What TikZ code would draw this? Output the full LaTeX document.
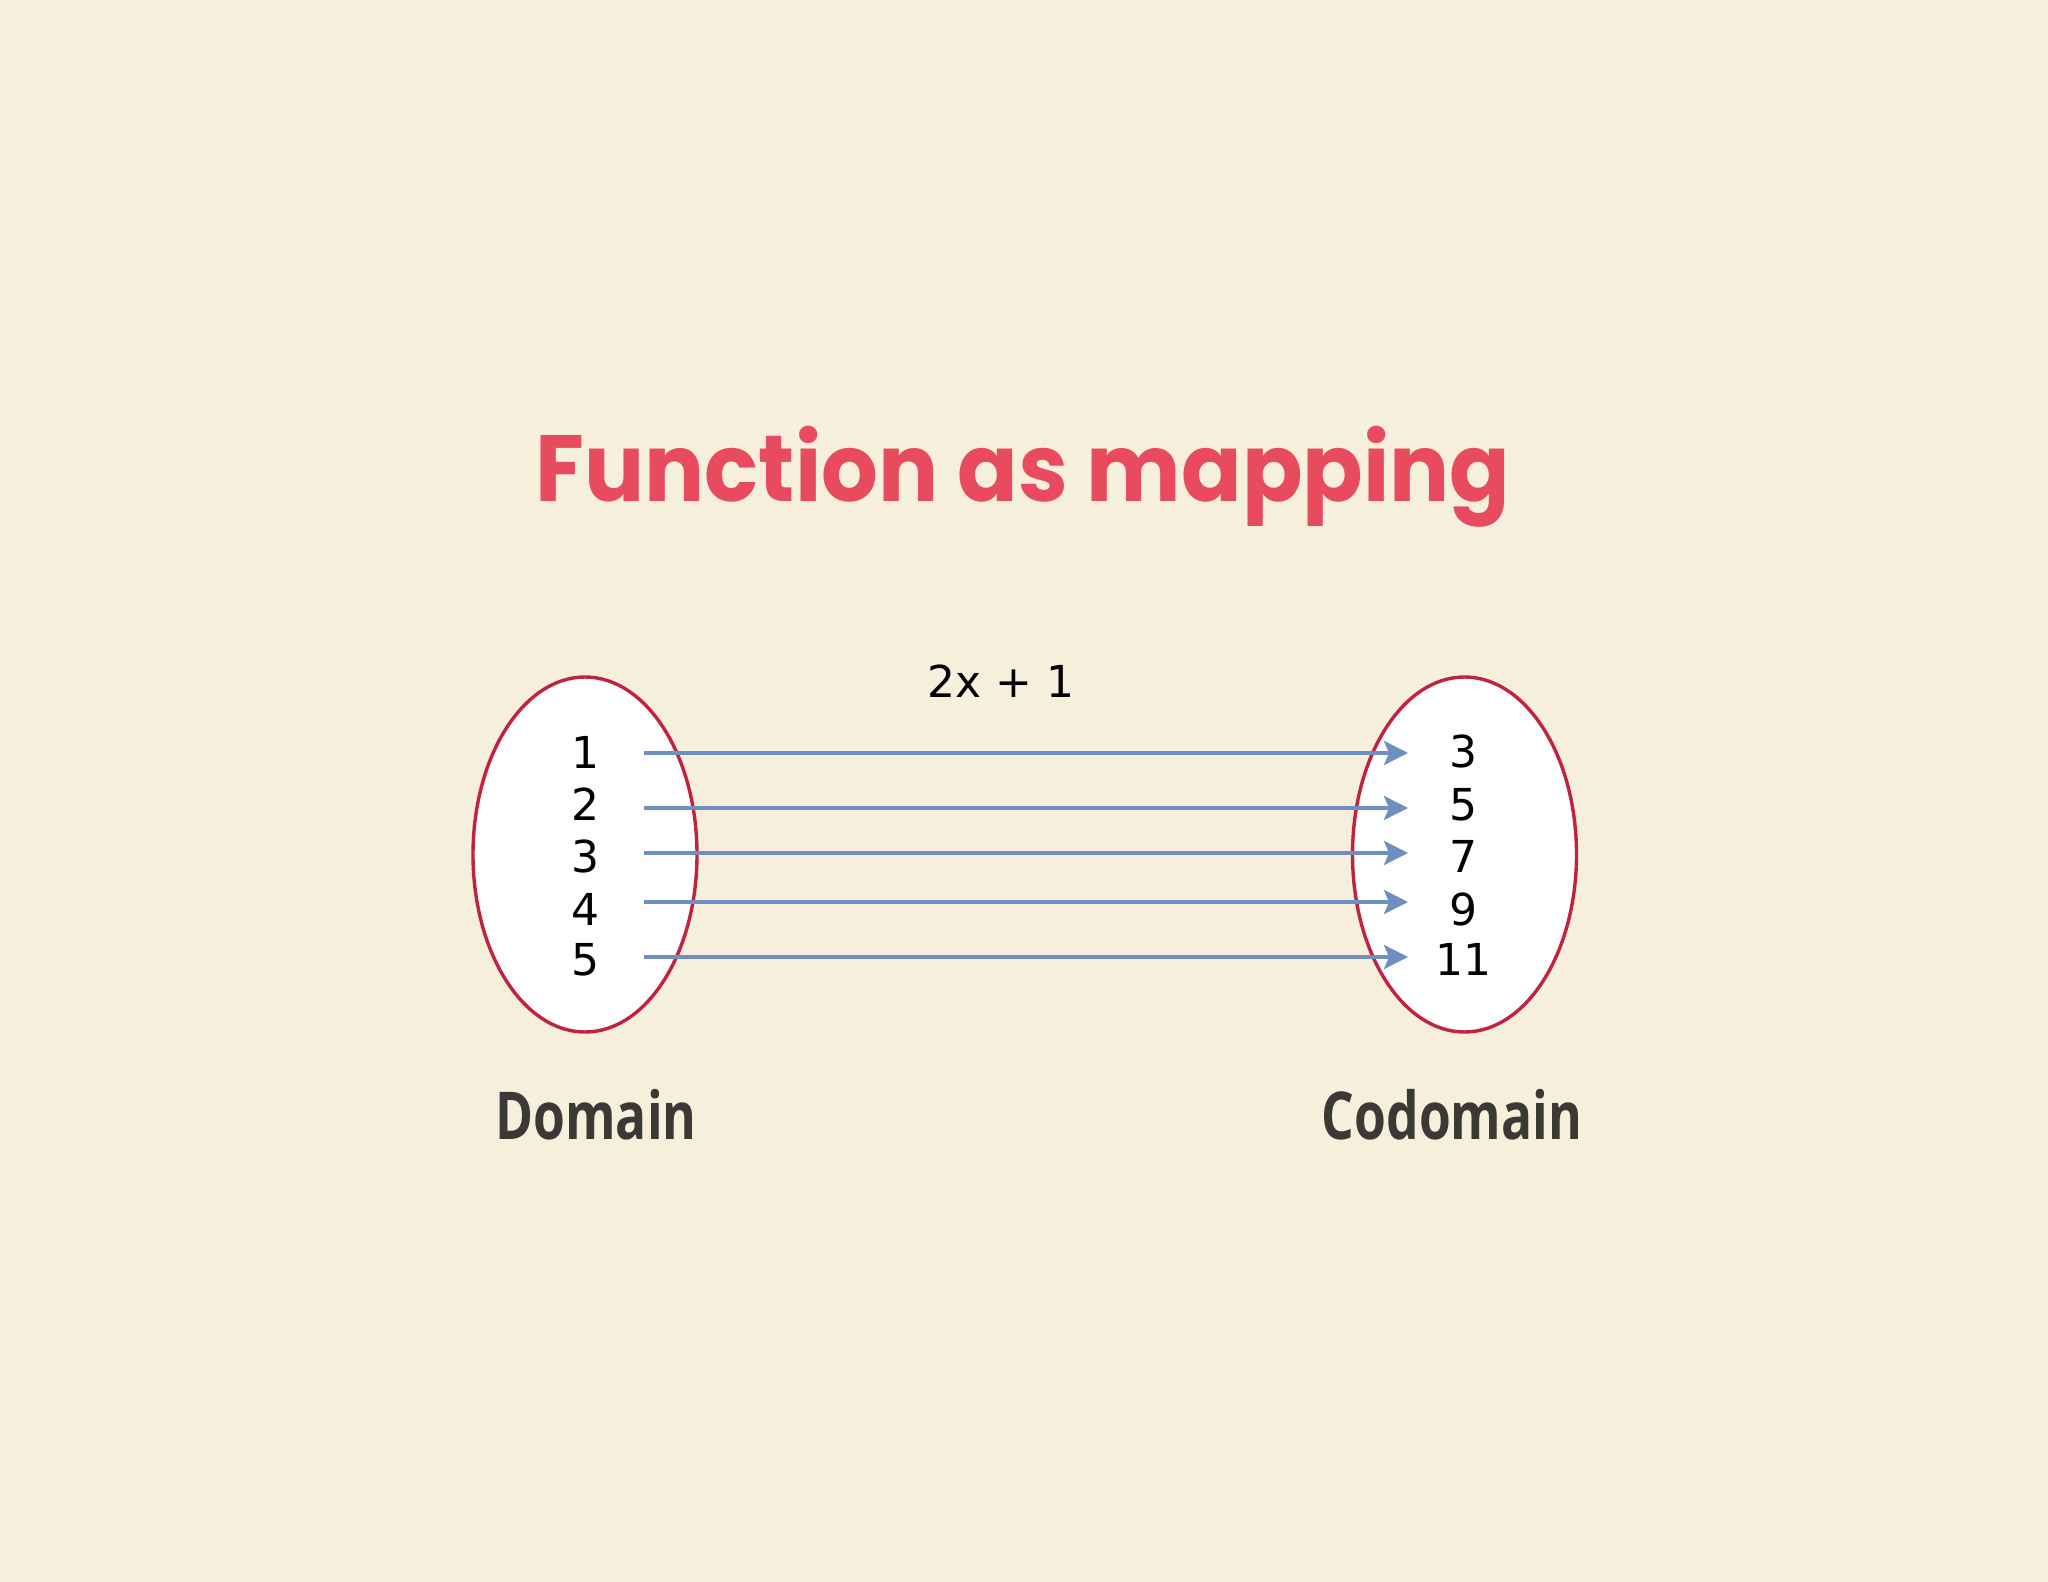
\documentclass[tikz,border=0pt]{standalone}
\usepackage{fontspec}
\usetikzlibrary{shapes.geometric,arrows.meta}
\newfontfamily\titlefont{Poppins}[FakeStretch=0.95]
\newfontfamily\labfont{Open Sans}[FakeStretch=0.78]
\newfontfamily\numfont{DejaVu Sans}
\definecolor{bgc}{HTML}{F5EFDC}
\definecolor{titlec}{HTML}{E84A5F}
\definecolor{ringc}{HTML}{C0223F}
\definecolor{arrc}{HTML}{6F8FC0}
\definecolor{labc}{HTML}{3B3935}
\tikzset{
  setshape/.style={ellipse, draw=ringc, line width=1.7pt, fill=white, minimum width=112pt, minimum height=177.5pt, inner sep=0pt},
  num/.style={font=\numfont\fontsize{22}{26}\selectfont, text=black, anchor=base, inner sep=0pt},
  maparrow/.style={draw=arrc, line width=1.8pt, -{Stealth[length=12pt,width=12pt,inset=2.5pt]}},
  setlabel/.style={font=\labfont\bfseries\fontsize{33}{38}\selectfont, text=labc, anchor=base, inner sep=0pt},
}
\begin{document}
\begin{tikzpicture}[x=0.5pt,y=-0.5pt]
\fill[bgc] (0,0) rectangle (2048,1582);
\useasboundingbox (0,0) rectangle (2048,1582);
\node[font=\titlefont\bfseries\fontsize{47}{56}\selectfont, text=titlec, anchor=base, inner sep=0pt] (title) at (1023,502) {Function as mapping};
\node[setshape] (dom) at (585,854.5) {};
\node[setshape] (cod) at (1464.5,854.5) {};
\node[num] (fx) at (1001,697) {2x + 1};
\node[num] (l1) at (585,768) {1};
\node[num] (l2) at (585,820) {2};
\node[num] (l3) at (585,872) {3};
\node[num] (l4) at (585,925) {4};
\node[num] (l5) at (585,975) {5};
\node[num] (r1) at (1463,767) {3};
\node[num] (r2) at (1463,820) {5};
\node[num] (r3) at (1463,872) {7};
\node[num] (r4) at (1463,925) {9};
\node[num] (r5) at (1463,975) {11};
\coordinate (a1) at (644,753); \coordinate (b1) at (1408,753);
\coordinate (a2) at (644,808); \coordinate (b2) at (1408,808);
\coordinate (a3) at (644,853); \coordinate (b3) at (1408,853);
\coordinate (a4) at (644,902); \coordinate (b4) at (1408,902);
\coordinate (a5) at (644,957); \coordinate (b5) at (1408,957);
\foreach \i in {1,...,5} {\draw[maparrow] (a\i) -- (b\i);}
\node[setlabel] (domlab) at (596,1139) {Domain};
\node[setlabel] (codlab) at (1452,1139) {Codomain};
\end{tikzpicture}
\end{document}
